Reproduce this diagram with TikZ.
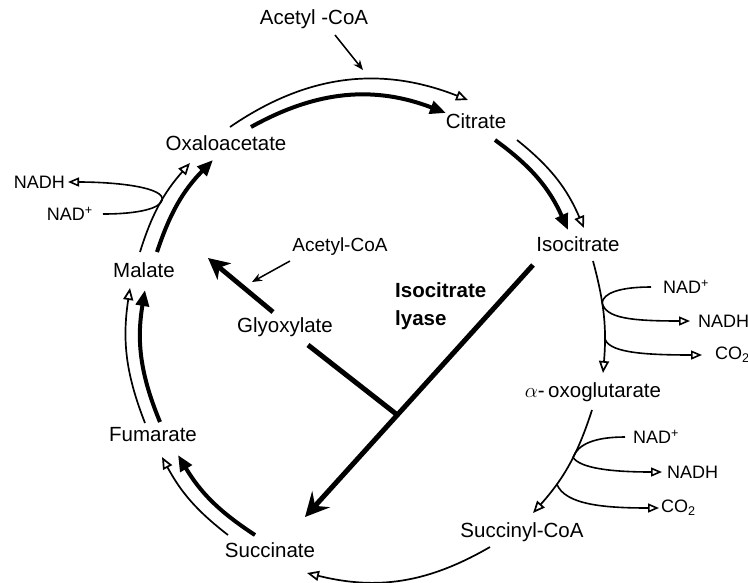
\documentclass[tikz,border=0pt]{standalone}
\usepackage{fontspec}
\setmainfont{Liberation Sans}
\usetikzlibrary{arrows.meta,calc}
\begin{document}
\begin{tikzpicture}[x=1pt,y=-1pt,
  lbl/.style={font=\fontsize{20.5}{24}\selectfont, inner sep=0pt},
  sml/.style={font=\fontsize{18}{21}\selectfont, inner sep=0pt},
  cycthin/.style={line width=1.7pt, -{Triangle[open,length=12pt,width=10pt]}},
  cycthick/.style={line width=4pt, -{Triangle[length=16pt,width=13pt]}},
  sidethin/.style={line width=1.6pt},
  sidearr/.style={line width=1.6pt, -{Triangle[open,length=11pt,width=9pt]}},
  feed/.style={line width=1.5pt, -{Stealth[length=10pt,width=8pt]}},
  lyaseline/.style={line width=5pt},
]
\fill[white] (0,0) rectangle (748,582);
\useasboundingbox (0,0) rectangle (748,582);

% metabolites
\node[lbl] (acA) at (314,19) {Acetyl -CoA};
\node[lbl] (oxa) at (226,143) {Oxaloacetate};
\node[lbl] (cit) at (476,121) {Citrate};
\node[lbl] (iso) at (578,244) {Isocitrate};
\node[lbl] (mal) at (144,270) {Malate};
\node[lbl] (glx) at (285,327) {Glyoxylate};
\node[sml,font=\fontsize{19}{22}\selectfont] (acB) at (340,247) {Acetyl-CoA};
\node[lbl,font=\fontsize{20.5}{28}\selectfont\bfseries,align=left,anchor=west] (ilabel) at (395,306) {Isocitrate\\lyase};
\node[lbl] (akg) at (593,392) {$\alpha$-\,oxoglutarate};
\node[lbl] (fum) at (153,435) {Fumarate};
\node[lbl] (sca) at (522,532) {Succinyl-CoA};
\node[lbl] (suc) at (270,550) {Succinate};

% cofactors
\node[sml,anchor=east] (nadhL) at (65,182) {NADH};
\node[sml,anchor=east] (nadpL) at (93,214) {NAD\textsuperscript{+}};
\node[sml,anchor=west] (nadp1) at (663,287) {NAD\textsuperscript{+}};
\node[sml,anchor=west] (nadh1) at (698,321) {NADH};
\node[sml,anchor=west] (co21) at (715,355) {CO\textsubscript{2}};
\node[sml,anchor=west] (nadp2) at (633,437) {NAD\textsuperscript{+}};
\node[sml,anchor=west] (nadh2) at (667,472) {NADH};
\node[sml,anchor=west] (co22) at (661,508) {CO\textsubscript{2}};

% cycle: Oxaloacetate -> Citrate
\draw[cycthin] ($(oxa)+(4,-16)$) to[bend left=28] ($(cit)+(-8,-21)$);
\draw[cycthick] ($(oxa)+(25,-16)$) to[bend left=25] ($(cit)+(-30,-8)$);
\draw[feed] ($(acA)+(21,16)$) -- ($(acA)+(49,51)$);

% Citrate -> Isocitrate
\draw[cycthin] ($(cit)+(41,19)$) to[bend left=14] ($(iso)+(6,-16)$);
\draw[cycthick] ($(cit)+(19,19)$) to[bend left=15] ($(iso)+(-10,-14)$);

% Isocitrate -> alpha-oxoglutarate
\draw[cycthin] ($(iso)+(15,17)$) to[bend left=10]
   coordinate[pos=0.37] (j1) coordinate[pos=0.7] (j2) ($(akg)+(10,-19)$);
\draw[sidethin] ([xshift=-12pt]nadp1.west) .. controls (620,287) and (603,293) .. (j1);
\draw[sidearr] (j1) .. controls (606,318) and (630,321) .. ([xshift=-8pt]nadh1.west);
\draw[sidearr] (j2) .. controls (607,352) and (640,355) .. ([xshift=-13pt]co21.west);

% alpha-oxoglutarate -> Succinyl-CoA
\draw[cycthin] ($(akg)+(-1,18)$) to[bend left=12]
   coordinate[pos=0.42] (j3) coordinate[pos=0.7] (j4) ($(sca)+(11,-19)$);
\draw[sidethin] ([xshift=-8pt]nadp2.west) .. controls (595,437) and (578,444) .. (j3);
\draw[sidearr] (j3) .. controls (580,468) and (610,472) .. ([xshift=-5pt]nadh2.west);
\draw[sidearr] (j4) .. controls (565,505) and (605,508) .. ([xshift=-2pt]co22.west);

% Succinyl-CoA -> Succinate
\draw[cycthin] ($(sca)+(-32,15)$) to[bend left=22] ($(suc)+(37,23)$);

% Succinate -> Fumarate
\draw[cycthin] ($(suc)+(-42,-15)$) to[bend left=12] ($(fum)+(9,22)$);
\draw[cycthick] ($(suc)+(-15,-15)$) to[bend left=13] ($(fum)+(25,20)$);

% Fumarate -> Malate
\draw[cycthin] ($(fum)+(-8,-12)$) to[bend left=15] ($(mal)+(-14,18)$);
\draw[cycthick] ($(fum)+(7,-13)$) to[bend left=16] ($(mal)+(1,20)$);

% Malate -> Oxaloacetate
\draw[cycthin] ($(mal)+(-4,-18)$) to[bend left=12] coordinate[pos=0.55] (jL) ($(oxa)+(-36,20)$);
\draw[cycthick] ($(mal)+(13,-18)$) to[bend left=13] ($(oxa)+(-13,17)$);
\draw[sidearr] ([xshift=10pt]nadpL.east) .. controls (140,214) and (160,208) .. (jL)
   .. controls (166,188) and (120,182) .. ([xshift=3pt]nadhL.east);

% glyoxylate shunt
\draw[lyaseline, -{Stealth[length=24pt,width=24pt,inset=9pt]}]
   ($(iso)+(-45,21)$) -- coordinate[pos=0.595] (jG) ($(suc)+(35,-33)$);
\draw[lyaseline] ($(glx)+(23,18)$) -- (jG);
\draw[line width=4.8pt, -{Stealth[length=21pt,width=21pt,inset=6pt]}]
   ($(glx)+(-12,-15)$) -- ($(mal)+(64,-12)$);
\draw[feed] ($(acB)+(-50,14)$) -- ($(acB)+(-88,35)$);
\end{tikzpicture}
\end{document}
